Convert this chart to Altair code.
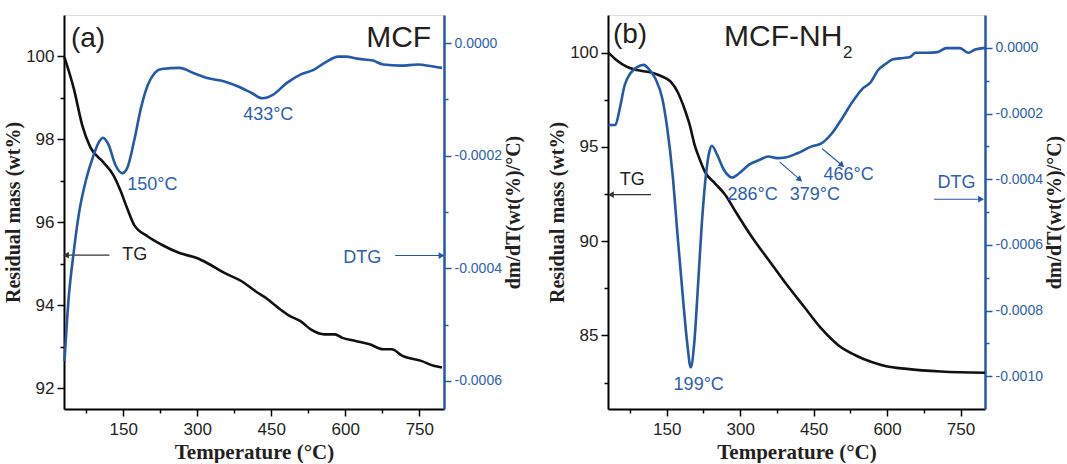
import altair as alt
import pandas as pd

# ---------------- data ----------------
# Panel (a) MCF
a_tg_T = [31, 50, 67, 83, 109, 130, 144, 158, 172, 200, 228, 264, 299, 320, 355, 390, 418, 439, 460,
          488, 509, 530, 558, 579, 593, 621, 649, 677, 694, 716, 754, 779, 796]
a_tg_W = [99.98, 99.22, 98.34, 97.82, 97.46, 97.14, 96.78, 96.34, 95.94, 95.66, 95.46, 95.26, 95.14,
          95.02, 94.78, 94.58, 94.34, 94.18, 93.98, 93.74, 93.62, 93.42, 93.30, 93.30, 93.22, 93.14,
          93.06, 92.94, 92.94, 92.78, 92.66, 92.54, 92.50]
a_dtg_T = [31, 39, 50, 60, 74, 88, 102, 109, 120, 134, 148, 158, 172, 186, 200, 214, 228, 264, 292,
           320, 355, 383, 411, 432, 453, 481, 509, 537, 558, 586, 600, 628, 656, 677, 712, 747, 775, 796]
a_dtg_V = [-0.000565, -0.000458, -0.000369, -0.000304, -0.000245, -0.000204, -0.000174, -0.000168,
           -0.000180, -0.000216, -0.000231, -0.000222, -0.000174, -0.000115, -0.000074, -0.000053,
           -0.000046, -0.000044, -0.000053, -0.000062, -0.000068, -0.000077, -0.000089, -0.000098,
           -0.000092, -0.000071, -0.000056, -0.000047, -0.000035, -0.000024, -0.000024, -0.000028,
           -0.000031, -0.000038, -0.000040, -0.000038, -0.000041, -0.000044]

# Panel (b) MCF-NH2
b_tg_T = [31, 47, 68, 89, 116, 137, 158, 172, 186, 197, 207, 218, 228, 249, 270, 291, 326, 361, 396,
          431, 466, 501, 536, 570, 598, 640, 710, 800]
b_tg_W = [100.0, 99.61, 99.26, 99.08, 98.96, 98.78, 98.46, 97.93, 97.04, 96.16, 95.10, 94.30, 93.68,
          93.06, 92.44, 91.55, 90.14, 88.90, 87.66, 86.51, 85.36, 84.47, 83.94, 83.58, 83.37, 83.23,
          83.09, 83.02]
b_dtg_T = [31, 45, 54, 64, 75, 89, 103, 113, 127, 141, 151, 162, 172, 183, 192, 199, 206, 214, 221,
           230, 237, 242, 253, 267, 284, 298, 319, 340, 357, 375, 392, 417, 445, 466, 487, 508, 529,
           550, 567, 581, 598, 612, 633, 647, 658, 682, 703, 721, 749, 766, 780, 800]
b_dtg_V = [-0.000235, -0.000235, -0.000185, -0.000114, -0.000079, -0.000059, -0.000052, -0.000064,
           -0.000094, -0.000155, -0.000245, -0.000387, -0.000569, -0.000761, -0.000902, -0.000973,
           -0.000902, -0.000720, -0.000549, -0.000387, -0.000316, -0.000298, -0.000326, -0.000372,
           -0.000395, -0.000382, -0.000355, -0.000341, -0.000331, -0.000336, -0.000334, -0.000321,
           -0.000301, -0.000291, -0.000261, -0.000215, -0.000165, -0.000124, -0.000104, -0.000069,
           -0.000048, -0.000035, -0.000031, -0.000028, -0.000015, -0.000015, -0.000013, -0.000001,
           -0.000001, -0.000015, -0.000005, 0.0]

# annotations (positions in data units of the left axis)
a_big_lab = ["(a)"]; a_big_T = [44]; a_big_W = [100.42]
a_title_lab = ["MCF"]; a_title_T = [774]; a_title_W = [100.45]
a_blue_lab = ["150°C", "433°C", "DTG"]; a_blue_T = [158, 393, 596]; a_blue_W = [96.9, 98.6, 95.14]
a_black_lab = ["TG"]; a_black_T = [148]; a_black_W = [95.21]

b_big_lab = ["(b)"]; b_big_T = [40]; b_big_W = [100.94]
b_title_lab = ["MCF-NH"]; b_title_T = [267]; b_title_W = [100.85]
b_sub_lab = ["2"]; b_sub_T = [510]; b_sub_W = [100.0]
b_blue_lab = ["199°C", "286°C", "379°C", "466°C", "DTG"]
b_blue_T = [164, 274, 401, 470, 703]
b_blue_W = [82.38, 92.47, 92.47, 93.5, 93.09]
b_black_lab = ["TG"]; b_black_T = [54]; b_black_W = [93.27]

# arrows: start -> end (data units), head angle
a_arr_T = [122, 701]; a_arr_T2 = [34, 795]; a_arr_W = [95.21, 95.20]; a_arr_W2 = [95.21, 95.20]
a_arr_col = ["black", "blue"]; a_arr_ang = [180, 0]
b_arr_T = [118, 696, 380.5, 467]; b_arr_T2 = [36, 792, 422, 508]
b_arr_W = [92.47, 92.23, 94.21, 94.92]; b_arr_W2 = [92.47, 92.23, 93.27, 94.03]
b_arr_col = ["black", "blue", "blue", "blue"]; b_arr_ang = [180, 0, 41, 41]

BLUE = "#2458a8"
TBLUE = "#2d60b0"
SANS = "Liberation Sans"
SERIF = "Liberation Serif"


def x_enc(field="T"):
    return alt.X(field + ":Q",
                 scale=alt.Scale(domain=[30, 800], nice=False, zero=False),
                 axis=alt.Axis(values=list(range(75, 751, 75)),
                               labelExpr="datum.value % 150 == 0 ? datum.label : ''",
                               tickSize={"condition": {"test": "datum.value % 150 != 0", "value": 4}, "value": 7},
                               title="Temperature (°C)", titleFont=SERIF, titleFontSize=21,
                               titleFontWeight="bold", titleColor="#231f20", titlePadding=4,
                               labelFont=SANS, labelFontSize=17, labelColor="#231f20", labelPadding=5,
                               domainColor="black", domainWidth=2, tickColor="black", tickWidth=1.5,
                               grid=False))


def yl_enc(domain, values, test, field="W"):
    return alt.Y(field + ":Q",
                 scale=alt.Scale(domain=domain, nice=False, zero=False),
                 axis=alt.Axis(values=values, orient="left",
                               labelExpr="(" + test + ") ? datum.label : ''",
                               tickSize={"condition": {"test": "!(" + test + ")", "value": 4}, "value": 7},
                               title="Residual mass (wt%)", titleFont=SERIF, titleFontSize=20,
                               titleFontWeight="bold", titleColor="#231f20", titlePadding=2,
                               labelFont=SANS, labelFontSize=17, labelColor="#231f20", labelPadding=3,
                               domainColor="black", domainWidth=2, tickColor="black", tickWidth=1.5,
                               grid=False))


def yr_enc(domain, values):
    lab = ("abs(round(datum.value*10000)) % 2 == 0 ? "
           "((datum.value < -0.00000001 ? '-' : '') + format(abs(datum.value), '.4f')) : ''")
    return alt.Y("V:Q",
                 scale=alt.Scale(domain=domain, nice=False, zero=False),
                 axis=alt.Axis(values=values, orient="right", labelExpr=lab,
                               tickSize={"condition": {"test": "abs(round(datum.value*10000)) % 2 == 1",
                                                       "value": 4}, "value": 7},
                               title="dm/dT(wt(%)/°C)", titleFont=SERIF, titleFontSize=20,
                               titleFontWeight="bold", titleColor="#231f20", titleAngle=270,
                               titleBaseline="top", titlePadding=2,
                               labelFont=SANS, labelFontSize=14, labelColor=TBLUE, labelPadding=3,
                               domainColor=BLUE, domainWidth=2.5, tickColor=BLUE, tickWidth=1.5,
                               grid=False))


def text_layer(labels, Ts, Ws, ydom, yvals, ytest, size, color, align):
    df = pd.DataFrame({"T": Ts, "W": Ws, "label": labels})
    return alt.Chart(df).mark_text(font=SANS, fontSize=size, color=color, align=align,
                                   baseline="middle").encode(
        x=x_enc(), y=yl_enc(ydom, yvals, ytest), text="label:N")


def arrow_layers(T1, T2, W1, W2, cols, angs, ydom, yvals, ytest):
    df = pd.DataFrame({"T": T1, "T2": T2, "W": W1, "W2": W2, "c": cols, "ang": angs})
    cscale = alt.Scale(domain=["black", "blue"], range=["#333333", BLUE])
    rule = alt.Chart(df).mark_rule(strokeWidth=1.1).encode(
        x=x_enc(), x2="T2:Q", y=yl_enc(ydom, yvals, ytest), y2="W2:Q",
        color=alt.Color("c:N", scale=cscale, legend=None))
    head = alt.Chart(df).mark_point(shape="triangle-right", filled=True, size=45, opacity=1).encode(
        x=x_enc("T2"), y=yl_enc(ydom, yvals, ytest, "W2"),
        angle=alt.Angle("ang:Q", scale=None),
        color=alt.Color("c:N", scale=cscale, legend=None))
    return [rule, head]


def panel(tg_T, tg_W, dtg_T, dtg_V, ydom, yvals, ytest, rdom, rvals, texts, arrows, width):
    tg = alt.Chart(pd.DataFrame({"T": tg_T, "W": tg_W})).mark_line(
        color="#111111", strokeWidth=2.6, interpolate="monotone").encode(
        x=x_enc(), y=yl_enc(ydom, yvals, ytest))
    layers = [tg]
    for t in texts:
        layers.append(text_layer(*t[:3], ydom, yvals, ytest, *t[3:]))
    layers += arrow_layers(*arrows, ydom, yvals, ytest)
    left = alt.layer(*layers)
    dtg = alt.Chart(pd.DataFrame({"T": dtg_T, "V": dtg_V})).mark_line(
        color=BLUE, strokeWidth=2.6, interpolate="monotone").encode(
        x=x_enc(), y=yr_enc(rdom, rvals))
    return alt.layer(left, dtg).resolve_scale(y="independent").properties(width=width, height=394)


a_yvals = [92, 93, 94, 95, 96, 97, 98, 99, 100]
a_rvals = [round(-0.0006 + 0.0001 * i, 4) for i in range(7)]
b_yvals = [82.5, 85, 87.5, 90, 92.5, 95, 97.5, 100]
b_rvals = [round(-0.0010 + 0.0001 * i, 4) for i in range(11)]

pa = panel(a_tg_T, a_tg_W, a_dtg_T, a_dtg_V, [91.5, 101], a_yvals, "datum.value % 2 == 0",
           [-0.00065, 0.00005], a_rvals,
           [(a_big_lab, a_big_T, a_big_W, 28, "#231f20", "left"),
            (a_title_lab, a_title_T, a_title_W, 30, "#231f20", "right"),
            (a_blue_lab, a_blue_T, a_blue_W, 18, TBLUE, "left"),
            (a_black_lab, a_black_T, a_black_W, 18, "#231f20", "left")],
           (a_arr_T, a_arr_T2, a_arr_W, a_arr_W2, a_arr_col, a_arr_ang), 380)

pb = panel(b_tg_T, b_tg_W, b_dtg_T, b_dtg_V, [81.1, 102], b_yvals, "datum.value % 5 == 0",
           [-0.0011, 0.0001], b_rvals,
           [(b_big_lab, b_big_T, b_big_W, 28, "#231f20", "left"),
            (b_title_lab, b_title_T, b_title_W, 30, "#231f20", "left"),
            (b_sub_lab, b_sub_T, b_sub_W, 17, "#231f20", "left"),
            (b_blue_lab, b_blue_T, b_blue_W, 18, TBLUE, "left"),
            (b_black_lab, b_black_T, b_black_W, 18, "#231f20", "left")],
           (b_arr_T, b_arr_T2, b_arr_W, b_arr_W2, b_arr_col, b_arr_ang), 377)

chart = alt.hconcat(pa, pb, spacing=23).properties(
    padding={"left": 3, "top": 14, "right": 0, "bottom": 0}
).configure_view(stroke="black", strokeWidth=2).configure(background="white")

chart.save("out.html", embed_options={"renderer": "svg", "actions": False})
